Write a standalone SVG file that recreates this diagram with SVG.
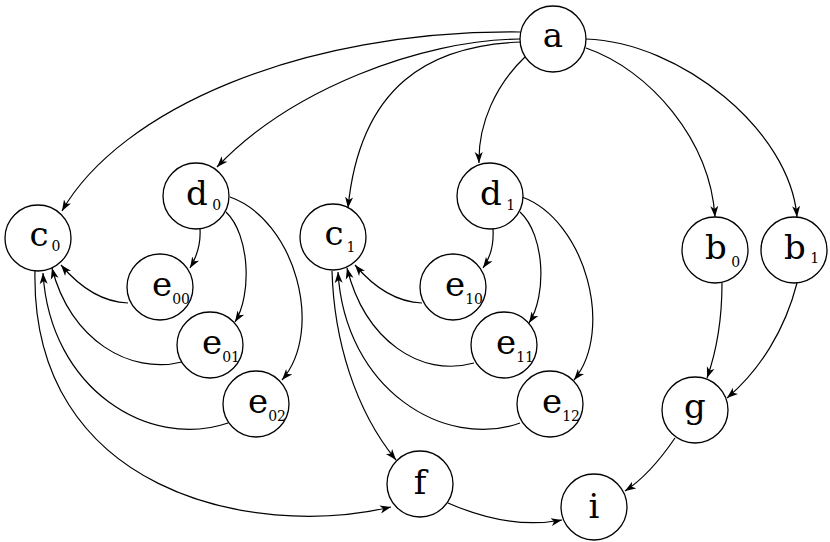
<svg xmlns="http://www.w3.org/2000/svg" width="830" height="542" viewBox="0 0 830 542">
<style>
.n circle{fill:#fff;stroke:#000;stroke-width:1.3}
.n text{font-family:"DejaVu Serif",serif;font-size:34px;fill:#000;text-anchor:middle}
.n tspan.s{font-size:14px}
.n tspan.s2{font-size:14px}
#edges path{fill:none;stroke:#000;stroke-width:1.2;marker-end:url(#arr)}
</style>
<defs>
<marker id="arr" markerUnits="userSpaceOnUse" markerWidth="12" markerHeight="10" viewBox="0 0 12 10" refX="11" refY="5" orient="auto">
<path d="M0,1 L11,5 L0,9 L3,5 Z" fill="#000"/>
</marker>
</defs>
<rect width="830" height="542" fill="#fff"/>
<g id="edges">
<path d="M520,32 C300,30 120,110 62,211"/>
<path d="M520,39 C420,40 290,90 217,167"/>
<path d="M522,42 C430,45 360,85 348,208"/>
<path d="M526,56 C495,85 478,125 479,163"/>
<path d="M586,48 C650,70 710,140 715,217"/>
<path d="M586,39 C680,42 790,130 797,217"/>
<path d="M200,229 C201,245 196,258 190,268"/>
<path d="M226,212 C250,235 252,295 235,322"/>
<path d="M230,197 C295,220 325,330 282,380"/>
<path d="M128,303 C100,302 78,285 61,265"/>
<path d="M182,362 C130,375 70,340 52,268"/>
<path d="M228,423 C150,450 50,390 43,273"/>
<path d="M35,270 C30,490 250,540 391,507"/>
<path d="M332,271 C334,340 355,410 396,460"/>
<path d="M422,303 C395,302 372,285 355,265"/>
<path d="M474,363 C420,378 365,340 347,268"/>
<path d="M520,423 C445,450 345,390 338,272"/>
<path d="M493,229 C494,245 490,258 483,268"/>
<path d="M520,212 C545,235 547,295 529,323"/>
<path d="M522,197 C585,220 615,330 574,380"/>
<path d="M722,283 C722,320 717,350 707,378"/>
<path d="M797,283 C785,330 760,370 727,398"/>
<path d="M675,438 C660,460 645,478 625,491"/>
<path d="M448,503 C480,517 520,528 562,520"/>
</g>
<g id="a" class="n"><circle cx="553" cy="39" r="33"/><text x="553" y="47">a</text></g>
<g id="c0" class="n"><circle cx="38" cy="238" r="33"/><text x="39" y="246">c<tspan class="s" dx="-2" y="251">0</tspan></text></g>
<g id="d0" class="n"><circle cx="196" cy="196" r="33"/><text x="197" y="205">d<tspan class="s" dx="-2" y="210">0</tspan></text></g>
<g id="e00" class="n"><circle cx="160" cy="287" r="33"/><text x="162" y="296">e<tspan class="s2" dx="-1" y="304">00</tspan></text></g>
<g id="e01" class="n"><circle cx="210" cy="345" r="33"/><text x="212" y="354">e<tspan class="s2" dx="-1" y="362">01</tspan></text></g>
<g id="e02" class="n"><circle cx="256" cy="404" r="33"/><text x="258" y="413">e<tspan class="s2" dx="-1" y="421">02</tspan></text></g>
<g id="c1" class="n"><circle cx="333" cy="237" r="33"/><text x="334" y="245">c<tspan class="s" dx="-2" y="252">1</tspan></text></g>
<g id="d1" class="n"><circle cx="490" cy="196" r="33"/><text x="491" y="205">d<tspan class="s" dx="-2" y="210">1</tspan></text></g>
<g id="e10" class="n"><circle cx="453" cy="287" r="33"/><text x="455" y="296">e<tspan class="s2" dx="-1" y="304">10</tspan></text></g>
<g id="e11" class="n"><circle cx="504" cy="345" r="33"/><text x="506" y="354">e<tspan class="s2" dx="-1" y="362">11</tspan></text></g>
<g id="e12" class="n"><circle cx="550" cy="404" r="33"/><text x="552" y="413">e<tspan class="s2" dx="-1" y="421">12</tspan></text></g>
<g id="b0" class="n"><circle cx="715" cy="250" r="33"/><text x="716" y="259">b<tspan class="s" dx="-2" y="267">0</tspan></text></g>
<g id="b1" class="n"><circle cx="794" cy="250" r="33"/><text x="795" y="259">b<tspan class="s" dx="-2" y="263">1</tspan></text></g>
<g id="g" class="n"><circle cx="695" cy="410" r="33"/><text x="695" y="418">g</text></g>
<g id="f" class="n"><circle cx="420" cy="484" r="33"/><text x="420" y="494">f</text></g>
<g id="i" class="n"><circle cx="594" cy="507" r="33"/><text x="594" y="518">i</text></g>
</svg>
